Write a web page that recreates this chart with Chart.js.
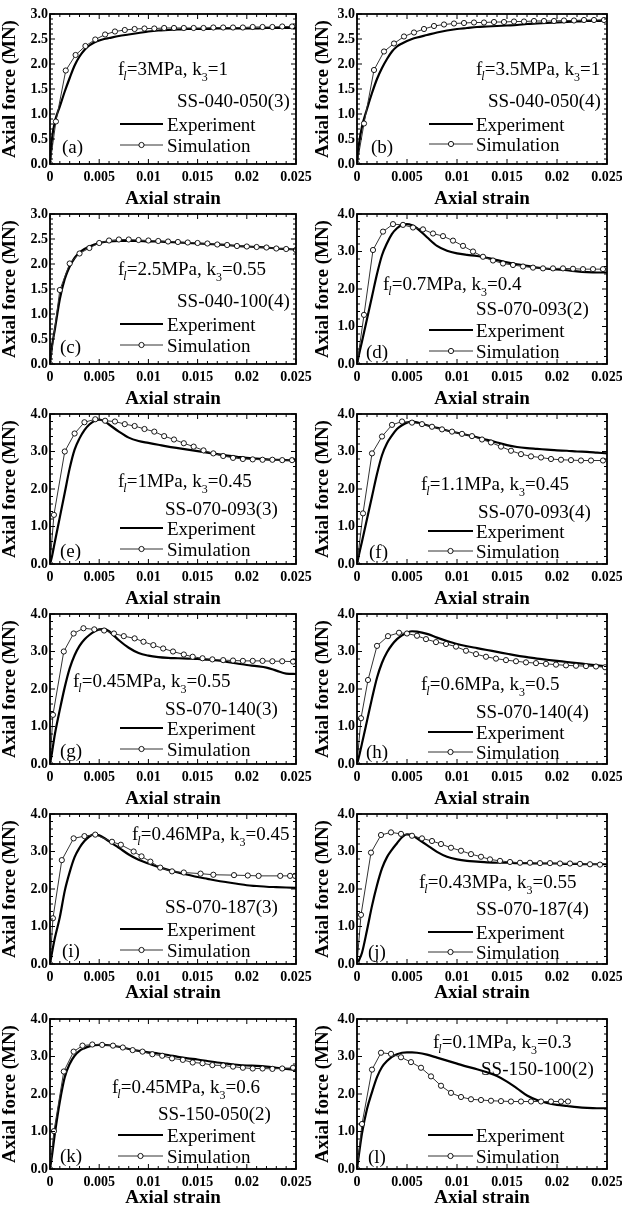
<!DOCTYPE html>
<html>
<head>
<meta charset="utf-8">
<script src="https://cdn.jsdelivr.net/npm/chart.js@4.4.0/dist/chart.umd.min.js"></script>
<style>
html,body{margin:0;padding:0;background:#fff;width:622px;height:1209px;overflow:hidden;position:relative}
canvas{position:absolute}
</style>
</head>
<body>
<script>
// ---------------- DATA ----------------
const xTickLabels = ['0', '0.005', '0.01', '0.015', '0.02', '0.025'];
const yTickLabels30 = ['0.0', '0.5', '1.0', '1.5', '2.0', '2.5', '3.0'];
const yTickLabels40 = ['0.0', '1.0', '2.0', '3.0', '4.0'];

const panelLabels = ['(a)', '(b)', '(c)', '(d)', '(e)', '(f)', '(g)', '(h)', '(i)', '(j)', '(k)', '(l)'];
const specimenIds = ['SS-040-050(3)', 'SS-040-050(4)', 'SS-040-100(4)', 'SS-070-093(2)', 'SS-070-093(3)', 'SS-070-093(4)',
                     'SS-070-140(3)', 'SS-070-140(4)', 'SS-070-187(3)', 'SS-070-187(4)', 'SS-150-050(2)', 'SS-150-100(2)'];
const flValues = ['3MPa', '3.5MPa', '2.5MPa', '0.7MPa', '1MPa', '1.1MPa', '0.45MPa', '0.6MPa', '0.46MPa', '0.43MPa', '0.45MPa', '0.1MPa'];
const k3Values = ['1', '1', '0.55', '0.4', '0.45', '0.45', '0.55', '0.5', '0.45', '0.55', '0.6', '0.3'];
const legendNames = ['Experiment', 'Simulation'];

// experiment: common strain grid
const expStrain = [0, 0.0002, 0.0005, 0.001, 0.0015, 0.002, 0.0025, 0.003, 0.0035, 0.004, 0.0045, 0.005, 0.0055, 0.006,
                   0.007, 0.008, 0.009, 0.01, 0.011, 0.012, 0.013, 0.014, 0.015, 0.016, 0.017, 0.018, 0.019, 0.02, 0.021, 0.022, 0.023, 0.024, 0.025];
const expForceA = [0,0.5,0.85,1.15,1.45,1.72,1.97,2.15,2.28,2.37,2.43,2.47,2.5,2.52,2.56,2.59,2.62,2.65,2.67,2.68,2.69,2.7,2.7,2.7,2.71,2.71,2.71,2.71,2.71,2.72,2.72,2.72,2.72];
const expForceB = [0,0.4,0.75,1.1,1.42,1.7,1.92,2.1,2.25,2.35,2.41,2.46,2.5,2.53,2.58,2.63,2.67,2.7,2.72,2.74,2.75,2.76,2.77,2.78,2.8,2.81,2.82,2.83,2.84,2.85,2.86,2.86,2.87];
const expForceC = [0,0.35,0.7,1.3,1.7,1.95,2.12,2.23,2.3,2.35,2.39,2.42,2.44,2.45,2.46,2.46,2.46,2.45,2.45,2.44,2.43,2.42,2.41,2.40,2.39,2.38,2.36,2.35,2.34,2.33,2.31,2.30,2.29];
const expForceD = [0,0.25,0.6,1.2,1.8,2.4,2.9,3.22,3.47,3.62,3.71,3.73,3.7,3.62,3.38,3.15,3.02,2.95,2.91,2.88,2.83,2.77,2.71,2.66,2.62,2.57,2.54,2.52,2.5,2.47,2.45,2.44,2.44];
const expForceE = [0,0.2,0.6,1.25,1.9,2.55,3.05,3.35,3.57,3.72,3.81,3.85,3.81,3.72,3.53,3.37,3.28,3.23,3.18,3.13,3.09,3.05,3.01,2.97,2.93,2.89,2.86,2.83,2.81,2.79,2.78,2.77,2.76];
const expForceF = [0,0.25,0.6,1.2,1.8,2.4,2.9,3.22,3.43,3.6,3.7,3.77,3.8,3.78,3.7,3.63,3.56,3.5,3.44,3.38,3.31,3.24,3.17,3.12,3.09,3.07,3.05,3.03,3.02,3.0,2.99,2.97,2.95];
const expForceG = [0,0.3,0.8,1.45,2.05,2.55,2.9,3.15,3.32,3.44,3.53,3.59,3.6,3.54,3.3,3.1,2.96,2.89,2.85,2.83,2.82,2.81,2.8,2.78,2.76,2.72,2.68,2.64,2.61,2.57,2.49,2.41,2.4];
const expForceH = [0,0.2,0.55,1.15,1.75,2.3,2.7,2.98,3.18,3.33,3.43,3.5,3.54,3.53,3.47,3.37,3.28,3.2,3.14,3.09,3.04,2.99,2.94,2.89,2.85,2.81,2.78,2.75,2.72,2.69,2.66,2.63,2.6];
const expForceI = [0,0.3,0.7,1.25,1.95,2.45,2.85,3.1,3.28,3.4,3.46,3.43,3.36,3.27,3.1,2.92,2.78,2.68,2.59,2.51,2.44,2.38,2.32,2.27,2.22,2.18,2.14,2.1,2.08,2.06,2.05,2.04,2.03];
const expForceJ = [0,0.1,0.3,0.9,1.55,2.1,2.55,2.85,3.05,3.22,3.38,3.46,3.44,3.35,3.17,2.99,2.86,2.79,2.75,2.73,2.71,2.7,2.7,2.69,2.69,2.68,2.68,2.68,2.67,2.67,2.66,2.66,2.66];
const expForceK = [0,0.35,0.95,1.8,2.45,2.8,3.02,3.15,3.22,3.27,3.3,3.31,3.31,3.3,3.26,3.2,3.15,3.11,3.08,3.04,2.99,2.95,2.92,2.88,2.84,2.81,2.78,2.76,2.75,2.73,2.7,2.67,2.64];
const expForceL = [0,0.4,0.95,1.6,2.05,2.45,2.72,2.88,2.99,3.06,3.1,3.11,3.11,3.1,3.05,2.97,2.89,2.81,2.73,2.66,2.58,2.48,2.33,2.15,1.96,1.84,1.76,1.71,1.68,1.65,1.63,1.62,1.62];

// simulation: marker strains and forces
const simStrainA = [0,0.0006,0.0016,0.0026,0.0036,0.0046,0.0056,0.0066,0.0076,0.0086,0.0096,0.0106,0.0116,0.0126,0.0136,0.0146,0.0156,0.0166,0.0176,0.0186,0.0196,0.0206,0.0216,0.0226,0.0236,0.0246];
const simForceA  = [0,0.85,1.87,2.18,2.36,2.49,2.59,2.65,2.68,2.70,2.71,2.71,2.72,2.72,2.72,2.72,2.72,2.73,2.73,2.73,2.73,2.74,2.74,2.74,2.75,2.75];
const simStrainB = [0,0.0007,0.0017,0.0027,0.0037,0.0047,0.0057,0.0067,0.0077,0.0087,0.0097,0.0107,0.0117,0.0127,0.0137,0.0147,0.0157,0.0167,0.0177,0.0187,0.0197,0.0207,0.0217,0.0227,0.0237,0.0247];
const simForceB  = [0,0.81,1.88,2.25,2.41,2.55,2.63,2.70,2.76,2.79,2.81,2.82,2.83,2.83,2.84,2.84,2.85,2.85,2.86,2.86,2.86,2.87,2.87,2.88,2.88,2.88];
const simStrainC = [0,0.001,0.002,0.003,0.004,0.005,0.006,0.007,0.008,0.009,0.01,0.011,0.012,0.013,0.014,0.015,0.016,0.017,0.018,0.019,0.02,0.021,0.022,0.023,0.024,0.025];
const simForceC  = [0,1.48,2.01,2.21,2.32,2.42,2.47,2.49,2.49,2.48,2.47,2.46,2.45,2.44,2.43,2.42,2.41,2.39,2.38,2.36,2.35,2.34,2.33,2.31,2.30,2.28];
const simStrainD = [0,0.0007,0.0016,0.0026,0.0036,0.0046,0.0056,0.0066,0.0076,0.0086,0.0096,0.0106,0.0116,0.0126,0.0136,0.0146,0.0156,0.0166,0.0176,0.0186,0.0196,0.0206,0.0216,0.0226,0.0236,0.0246];
const simForceD  = [0,1.31,3.04,3.53,3.73,3.71,3.64,3.59,3.48,3.41,3.29,3.15,3.0,2.86,2.76,2.68,2.64,2.6,2.57,2.55,2.55,2.55,2.54,2.53,2.53,2.53];
const simStrainE = [0,0.0004,0.0015,0.0025,0.0035,0.0046,0.0056,0.0066,0.0076,0.0086,0.0096,0.0106,0.0116,0.0126,0.0136,0.0146,0.0156,0.0166,0.0176,0.0186,0.0196,0.0206,0.0216,0.0226,0.0236,0.0246];
const simForceE  = [0,1.31,3.0,3.48,3.78,3.86,3.82,3.8,3.73,3.68,3.6,3.53,3.41,3.32,3.22,3.13,3.03,2.95,2.88,2.83,2.8,2.79,2.78,2.78,2.77,2.77];
const simStrainF = [0,0.0006,0.0015,0.0025,0.0035,0.0045,0.0055,0.0065,0.0075,0.0085,0.0095,0.0105,0.0115,0.0125,0.0134,0.0144,0.0154,0.0164,0.0174,0.0184,0.0194,0.0204,0.0214,0.0224,0.0234,0.0246];
const simForceF  = [0,1.35,2.95,3.4,3.71,3.8,3.77,3.73,3.66,3.59,3.53,3.47,3.41,3.32,3.24,3.13,3.02,2.93,2.87,2.84,2.8,2.78,2.77,2.76,2.76,2.76];
const simStrainG = [0,0.0003,0.0014,0.0024,0.0034,0.0045,0.0055,0.0065,0.0075,0.0086,0.0095,0.0105,0.0115,0.0125,0.0136,0.0145,0.0155,0.0165,0.0176,0.0186,0.0196,0.0206,0.0216,0.0226,0.0236,0.0247];
const simForceG  = [0,1.31,3.0,3.48,3.62,3.59,3.56,3.48,3.41,3.35,3.26,3.17,3.08,3.0,2.92,2.86,2.82,2.79,2.77,2.76,2.75,2.75,2.75,2.74,2.74,2.73];
const simStrainH = [0,0.0004,0.0011,0.002,0.0031,0.0042,0.005,0.006,0.0069,0.0079,0.0089,0.0099,0.0109,0.0119,0.0129,0.0139,0.0149,0.0159,0.0169,0.0179,0.0189,0.0199,0.0209,0.0219,0.0229,0.0239,0.0248];
const simForceH  = [0,1.22,2.24,3.15,3.41,3.5,3.48,3.42,3.33,3.25,3.2,3.13,3.02,2.93,2.86,2.81,2.77,2.74,2.71,2.69,2.67,2.65,2.63,2.62,2.61,2.6,2.58];
const simStrainI = [0,0.0003,0.0012,0.0024,0.0035,0.0046,0.0063,0.0072,0.0085,0.0093,0.0102,0.0112,0.0124,0.0136,0.0153,0.0166,0.0187,0.0201,0.0212,0.0234,0.0244,0.0249];
const simForceI  = [0,1.22,2.77,3.35,3.41,3.45,3.26,3.18,3.0,2.87,2.73,2.57,2.47,2.44,2.41,2.38,2.37,2.36,2.35,2.35,2.35,2.35];
const simStrainJ = [0,0.0004,0.0014,0.0024,0.0034,0.0044,0.0055,0.0065,0.0075,0.0084,0.0094,0.0104,0.0114,0.0124,0.0133,0.0143,0.0153,0.0163,0.0173,0.0183,0.0193,0.0203,0.0213,0.0223,0.0233,0.0243];
const simForceJ  = [0,1.31,2.97,3.44,3.51,3.47,3.42,3.35,3.28,3.2,3.1,3.02,2.93,2.86,2.79,2.75,2.72,2.7,2.7,2.69,2.69,2.68,2.68,2.67,2.66,2.65];
const simStrainK = [0,0.0004,0.0014,0.0024,0.0033,0.0043,0.0053,0.0064,0.0074,0.0084,0.0094,0.0104,0.0114,0.0124,0.0135,0.0145,0.0155,0.0165,0.0176,0.0186,0.0196,0.0206,0.0216,0.0226,0.0236,0.0247];
const simForceK  = [0,1.01,2.6,3.13,3.29,3.32,3.31,3.29,3.24,3.17,3.13,3.06,3.02,2.95,2.91,2.84,2.82,2.77,2.76,2.73,2.7,2.68,2.68,2.67,2.68,2.7];
const simStrainL = [0,0.0005,0.0015,0.0024,0.0034,0.0044,0.0054,0.0064,0.0074,0.0084,0.0094,0.0104,0.0114,0.0124,0.0134,0.0144,0.0154,0.0164,0.0174,0.0184,0.0194,0.0204,0.0211];
const simForceL  = [0,1.2,2.65,3.1,3.07,2.98,2.85,2.7,2.47,2.22,2.03,1.92,1.86,1.84,1.82,1.81,1.8,1.8,1.8,1.8,1.8,1.8,1.8];

// ---------------- PANEL SETUP ----------------
const panelSeries = [
  [expForceA, simStrainA, simForceA, 3], [expForceB, simStrainB, simForceB, 3],
  [expForceC, simStrainC, simForceC, 3], [expForceD, simStrainD, simForceD, 4],
  [expForceE, simStrainE, simForceE, 4], [expForceF, simStrainF, simForceF, 4],
  [expForceG, simStrainG, simForceG, 4], [expForceH, simStrainH, simForceH, 4],
  [expForceI, simStrainI, simForceI, 4], [expForceJ, simStrainJ, simForceJ, 4],
  [expForceK, simStrainK, simForceK, 4], [expForceL, simStrainL, simForceL, 4]
];

// layout (canvas-relative px): flX, flY, idX, idY, legX1, legX2, expY, simY, legTextX, labX, labY
const annotLayout = [
  [118,75, 177,107, 120,163,124,145,167, 62,153],
  [165,75, 177,107, 118,162,124,144,165, 60,153],
  [118,75, 177,107, 120,163,124,145,167, 60,153],
  [72,90, 165,115, 118,162,130,151,165, 55,158],
  [118,87, 165,115, 120,163,128,149,167, 60,157],
  [110,90, 167,118, 117,162,131,151,165, 58,158],
  [73,87, 165,115, 120,163,128,149,167, 60,157],
  [110,90, 165,118, 117,162,132,152,165, 55,158],
  [132,40, 165,113, 120,163,129,150,167, 62,157],
  [108,88, 165,115, 117,162,132,152,165, 57,158],
  [112,88, 158,115, 118,163,130,151,167, 60,157],
  [122,43, 170,70, 117,162,130,151,165, 57,158]
];

const FONT = '"Liberation Serif", "Times New Roman", serif';
const colLeft = [0, 311];
const rowTop = [0, 200, 400, 600, 800, 1005];

const decorPlugin = {
  id: 'panelDecor',
  afterDatasetsDraw(chart, args, o) {
    const ctx = chart.ctx;
    const {left, top, right, bottom} = chart.chartArea;
    const xs = chart.scales.x, ys = chart.scales.y;
    ctx.save();
    ctx.strokeStyle = '#000';
    ctx.lineWidth = 1;
    const seg = (x1, y1, x2, y2) => { ctx.beginPath(); ctx.moveTo(x1, y1); ctx.lineTo(x2, y2); ctx.stroke(); };
    for (let i = 0; i <= 25; i++) {
      const px = xs.getPixelForValue(i * 0.001);
      const len = (i % 5 === 0) ? 5 : 3;
      seg(px, bottom, px, bottom - len);
      seg(px, top, px, top + len);
    }
    const nMinor = o.ymax === 3 ? 30 : 20;
    const minorStep = o.ymax / nMinor;
    for (let i = 0; i <= nMinor; i++) {
      const py = ys.getPixelForValue(i * minorStep);
      const len = (i % 5 === 0) ? 5 : 3;
      seg(left, py, left + len, py);
      seg(right, py, right - len, py);
    }
    ctx.lineWidth = 1.8;
    ctx.strokeRect(left, top, right - left, bottom - top);
    ctx.restore();
  },
  afterDraw(chart, args, o) {
    const ctx = chart.ctx;
    const L = o.layout;
    ctx.save();
    ctx.fillStyle = '#000';
    ctx.strokeStyle = '#000';
    ctx.textAlign = 'left';
    ctx.textBaseline = 'alphabetic';
    const main = '19px ' + FONT;
    let cx = L[0];
    const y0 = L[1];
    const piece = (t, font, dy) => { ctx.font = font; ctx.fillText(t, cx, y0 + dy); cx += ctx.measureText(t).width; };
    piece('f', main, 0);
    cx -= 1;
    piece('l', 'italic 12px ' + FONT, 5);
    piece('=' + o.fl + ', k', main, 0);
    piece('3', '12px ' + FONT, 6);
    piece('=' + o.k3, main, 0);
    ctx.font = main;
    ctx.fillText(o.spec, L[2], L[3]);
    ctx.lineWidth = 2.2;
    ctx.beginPath(); ctx.moveTo(L[4], L[6]); ctx.lineTo(L[5], L[6]); ctx.stroke();
    ctx.fillText(legendNames[0], L[8], L[6] + 7);
    ctx.lineWidth = 1;
    ctx.strokeStyle = '#333';
    ctx.beginPath(); ctx.moveTo(L[4], L[7]); ctx.lineTo(L[5], L[7]); ctx.stroke();
    ctx.strokeStyle = '#000';
    ctx.fillStyle = '#fff';
    ctx.lineWidth = 0.9;
    ctx.beginPath(); ctx.arc((L[4] + L[5]) / 2, L[7], 2.6, 0, Math.PI * 2); ctx.fill(); ctx.stroke();
    ctx.fillStyle = '#000';
    ctx.fillText(legendNames[1], L[8], L[7] + 7);
    ctx.fillText(o.label, L[9], L[10]);
    ctx.restore();
  }
};

panelSeries.forEach((ps, i) => {
  const [expF, simS, simF, ymax] = ps;
  const col = i % 2, row = Math.floor(i / 2);
  const W = col ? 330 : 340, H = 216;
  const canvas = document.createElement('canvas');
  canvas.width = W; canvas.height = H;
  canvas.style.left = colLeft[col] + 'px';
  canvas.style.top = rowTop[row] + 'px';
  document.body.appendChild(canvas);
  const plotTop = 14, plotBottom = 164, plotRight = 296;
  const yW = col ? 46 : 50;
  const xH = row < 4 ? 46 : 40;
  const yStep = ymax === 3 ? 0.5 : 1;
  const yLabels = ymax === 3 ? yTickLabels30 : yTickLabels40;

  new Chart(canvas, {
    type: 'scatter',
    data: {
      datasets: [
        {
          label: legendNames[0],
          data: expStrain.map((s, k) => ({x: s, y: expF[k]})),
          showLine: true, borderColor: '#000', borderWidth: 2.2,
          pointRadius: 0, cubicInterpolationMode: 'monotone', order: 2
        },
        {
          label: legendNames[1],
          data: simS.map((s, k) => ({x: s, y: simF[k]})),
          showLine: true, borderColor: '#333', borderWidth: 1, tension: 0,
          pointRadius: 2.6, pointBackgroundColor: '#fff', pointBorderColor: '#000', pointBorderWidth: 0.9, order: 1
        }
      ]
    },
    options: {
      responsive: false, animation: false, devicePixelRatio: 1,
      layout: { autoPadding: false, padding: { left: 0, top: plotTop, right: W - plotRight, bottom: H - plotBottom - xH } },
      plugins: {
        legend: { display: false }, tooltip: { enabled: false },
        panelDecor: { ymax: ymax, fl: flValues[i], k3: k3Values[i], spec: specimenIds[i], label: panelLabels[i], layout: annotLayout[i] }
      },
      scales: {
        x: {
          type: 'linear', position: 'bottom', min: 0, max: 0.025,
          grid: { display: false, drawTicks: false }, border: { display: false },
          ticks: {
            stepSize: 0.005, padding: 5, autoSkip: false, maxRotation: 0, color: '#000',
            font: { family: FONT, size: 14, weight: 'bold' },
            callback: (v) => xTickLabels[Math.round(v / 0.005)]
          },
          title: { display: true, text: 'Axial strain', color: '#000', padding: 0,
                   font: { family: FONT, size: 19, weight: 'bold', lineHeight: 1.2 } },
          afterFit: (s) => { s.height = xH; s.paddingLeft = 0; s.paddingRight = 0; }
        },
        y: {
          type: 'linear', position: 'left', min: 0, max: ymax,
          grid: { display: false, drawTicks: false }, border: { display: false },
          ticks: {
            stepSize: yStep, padding: 2, autoSkip: false, color: '#000',
            font: { family: FONT, size: 14, weight: 'bold' },
            callback: (v) => yLabels[Math.round(v / yStep)]
          },
          title: { display: true, text: 'Axial force (MN)', color: '#000', padding: { top: col ? 2.5 : 0.5, bottom: 0 },
                   font: { family: FONT, size: 19, weight: 'bold', lineHeight: 1 } },
          afterFit: (s) => { s.width = yW; s.paddingTop = 0; s.paddingBottom = 0; }
        }
      }
    },
    plugins: [decorPlugin]
  });
});
</script>
</body>
</html>
